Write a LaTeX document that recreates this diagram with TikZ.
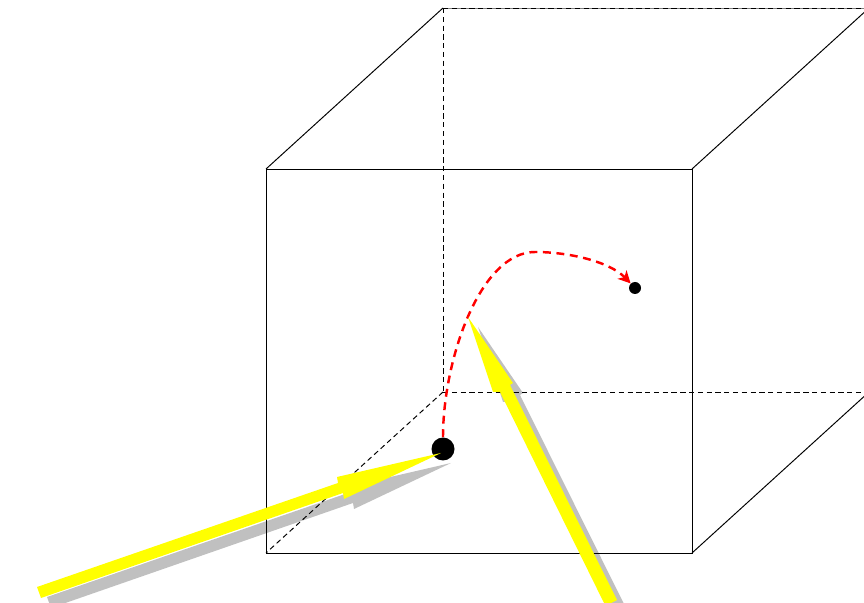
\documentclass[tikz,border=0pt]{standalone}
\usetikzlibrary{calc,arrows.meta}

\definecolor{rayyellow}{RGB}{255,255,0}
\definecolor{rayred}{RGB}{255,0,0}
\definecolor{raygray}{RGB}{192,192,192}
\tikzset{
    edge/.style={line width=0.55pt},
    hidden/.style={line width=0.55pt, dash pattern=on 3pt off 2pt},
    rayshadow/.style={fill=raygray},
    ray/.style={fill=rayyellow},
    dot/.style={circle, fill=black, inner sep=0pt},
    track/.style={rayred, line width=1.4pt, dash pattern=on 4.5pt off 3.2pt, -{Stealth[length=7pt,width=7pt,inset=2pt]}}
}
\newcommand{\rayleft}{(0.74,0.32)--(6.76,2.40)--(6.74,2.52)--(8.82,3.00)--(6.88,2.08)--(6.86,2.20)--(0.82,0.10)--cycle}
\newcommand{\rayright}{(9.36,5.72)--(10.26,4.40)--(10.20,4.36)--(12.34,0.06)--(12.11,-0.06)--(10.00,4.22)--(9.86,4.22)--cycle}

\begin{document}
\begin{tikzpicture}
    \pgfmathsetmacro{\X}{8.52}
    \pgfmathsetmacro{\Y}{7.68}
    \pgfmathsetmacro{\dx}{3.54}
    \pgfmathsetmacro{\dy}{3.22}
    \useasboundingbox (0,0) rectangle (17.28,12.06);
    \clip (0,0) rectangle (17.28,12.06);
    \coordinate (B) at (5.32,1);
    \coordinate (C) at ($(B)+(\X,0)$);
    \coordinate (D) at ($(C)+(0,\Y)$);
    \coordinate (A) at ($(B)+(0,\Y)$);
    \coordinate (B2) at ($(B)+(\dx,\dy)$);
    \coordinate (C2) at ($(C)+(\dx,\dy)$);
    \coordinate (D2) at ($(D)+(\dx,\dy)$);
    \coordinate (A2) at ($(A)+(\dx,\dy)$);
    \fill[rayshadow, shift={(0.2,-0.2)}] \rayleft;
    \fill[rayshadow, shift={(0.2,-0.2)}] \rayright;
    \draw[edge] (A)--(B)--(C)--(D)--cycle;
    \draw[edge] (A)--(A2);
    \draw[edge] (D)--(D2);
    \draw[edge] (C)--(C2);
    \draw[edge, black!50] (A2)--(D2);
    \draw[hidden] (A2)--(D2);
    \draw[hidden] (A2)--(B2);
    \draw[hidden] (B2)--(C2);
    \draw[hidden] (B2)--(B);
    \node[dot, minimum size=0.46cm] (start) at (8.86,3.08) {};
    \node[dot, minimum size=0.24cm] (end) at (12.70,6.30) {};
    \draw[track] (start.north) .. controls (8.86,4.86) and (9.60,7.02) .. (10.70,7.02)
        .. controls (11.40,7.02) and (12.20,6.82) .. (end);
    \fill[ray] \rayleft;
    \fill[ray] \rayright;
\end{tikzpicture}
\end{document}
